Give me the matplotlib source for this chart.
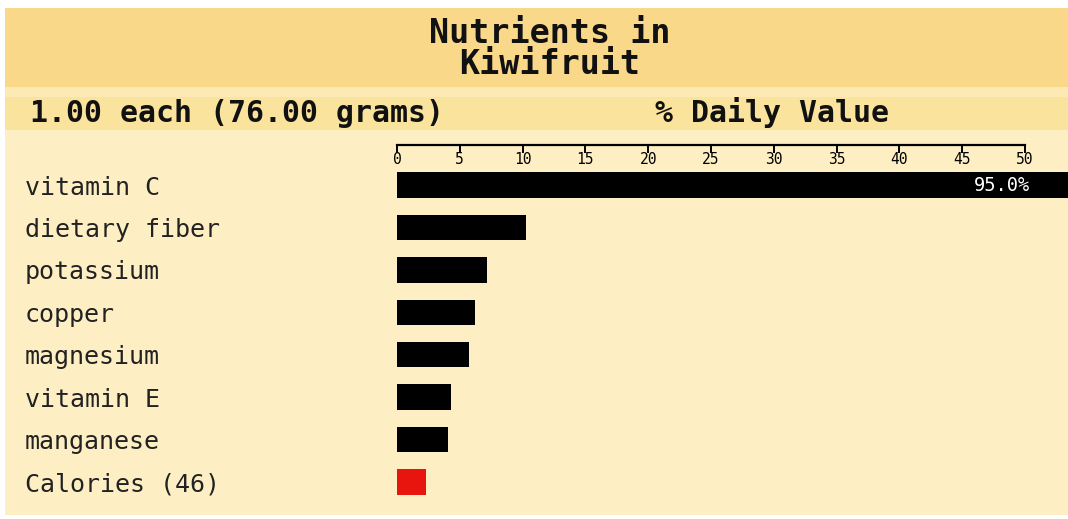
import numpy as np
import matplotlib
matplotlib.use("Agg")
import matplotlib.pyplot as plt
from matplotlib.patches import Rectangle

# data (% daily value)
nutrients = ["vitamin C", "dietary fiber", "potassium", "copper",
             "magnesium", "vitamin E", "manganese", "Calories (46)"]
daily_value = [95.0, 10.3, 7.2, 6.2, 5.7, 4.3, 4.1, 2.3]
bar_colors = ["black"] * 7 + ["#E8140E"]
ticks = [0, 5, 10, 15, 20, 25, 30, 35, 40, 45, 50]

W, H = 1068, 519
mono = "DejaVu Sans Mono"

fig = plt.figure(figsize=(W / 100, H / 100), dpi=100, facecolor="white")


def band(x0, y0, x1, y1, color):
    # pixel box (top-down) -> figure fraction
    fig.add_artist(Rectangle((x0 / W, 1 - y1 / H), (x1 - x0) / W, (y1 - y0) / H,
                             transform=fig.transFigure, facecolor=color,
                             edgecolor="none", zorder=0))


band(5, 8, W, 87, "#F9D88A")
band(5, 87, W, 97, "#FCE9B3")
band(5, 97, W, 130, "#FAE39C")
band(5, 130, W, 515, "#FDEFC3")

fig.text(550 / W, 1 - 49 / H, "Nutrients in\nKiwifruit", ha="center", va="center",
         fontsize=24, fontweight="bold", family=mono, linespacing=0.95, color="#111111")
fig.text(30 / W, 1 - 113 / H, "1.00 each (76.00 grams)", ha="left", va="center",
         fontsize=21.5, fontweight="bold", family=mono, color="#111111")
fig.text(655 / W, 1 - 113 / H, "% Daily Value", ha="left", va="center",
         fontsize=21.5, fontweight="bold", family=mono, color="#111111")

# axes: top spine acts as the ruler at y=145px
ax_top, ax_bot = 145, 514
ax = fig.add_axes([397 / W, 1 - ax_bot / H, (W - 397) / W, (ax_bot - ax_top) / H])
ax.set_facecolor("none")

y = np.arange(len(nutrients))
ax.barh(y, daily_value, height=0.6, color=bar_colors, zorder=2)
ax.set_xlim(0, (W - 397) / 12.56)
ax.set_ylim(7.754, -0.943)

ax.annotate(f"{daily_value[0]:.1f}%", xy=(1, y[0]), xycoords=("axes fraction", "data"),
            xytext=(-27, 0), textcoords="offset points", ha="right", va="center",
            color="white", fontsize=13.5, family=mono)

for s in ["bottom", "left", "right"]:
    ax.spines[s].set_visible(False)
ax.spines["top"].set_bounds(0, 50)
ax.spines["top"].set_linewidth(1.6)

ax.set_xticks(ticks)
ax.xaxis.tick_top()
ax.tick_params(axis="x", direction="in", length=5.5, width=1.4, pad=-16,
               labelsize=10.5, labelfontfamily=mono)

ax.set_yticks(y)
ax.set_yticklabels(nutrients, ha="left", fontsize=18, family=mono, color="#222222")
ax.tick_params(axis="y", length=0, pad=(397 - 25) / 100 * 72)

fig.savefig("out.png", dpi=100, facecolor=fig.get_facecolor())
